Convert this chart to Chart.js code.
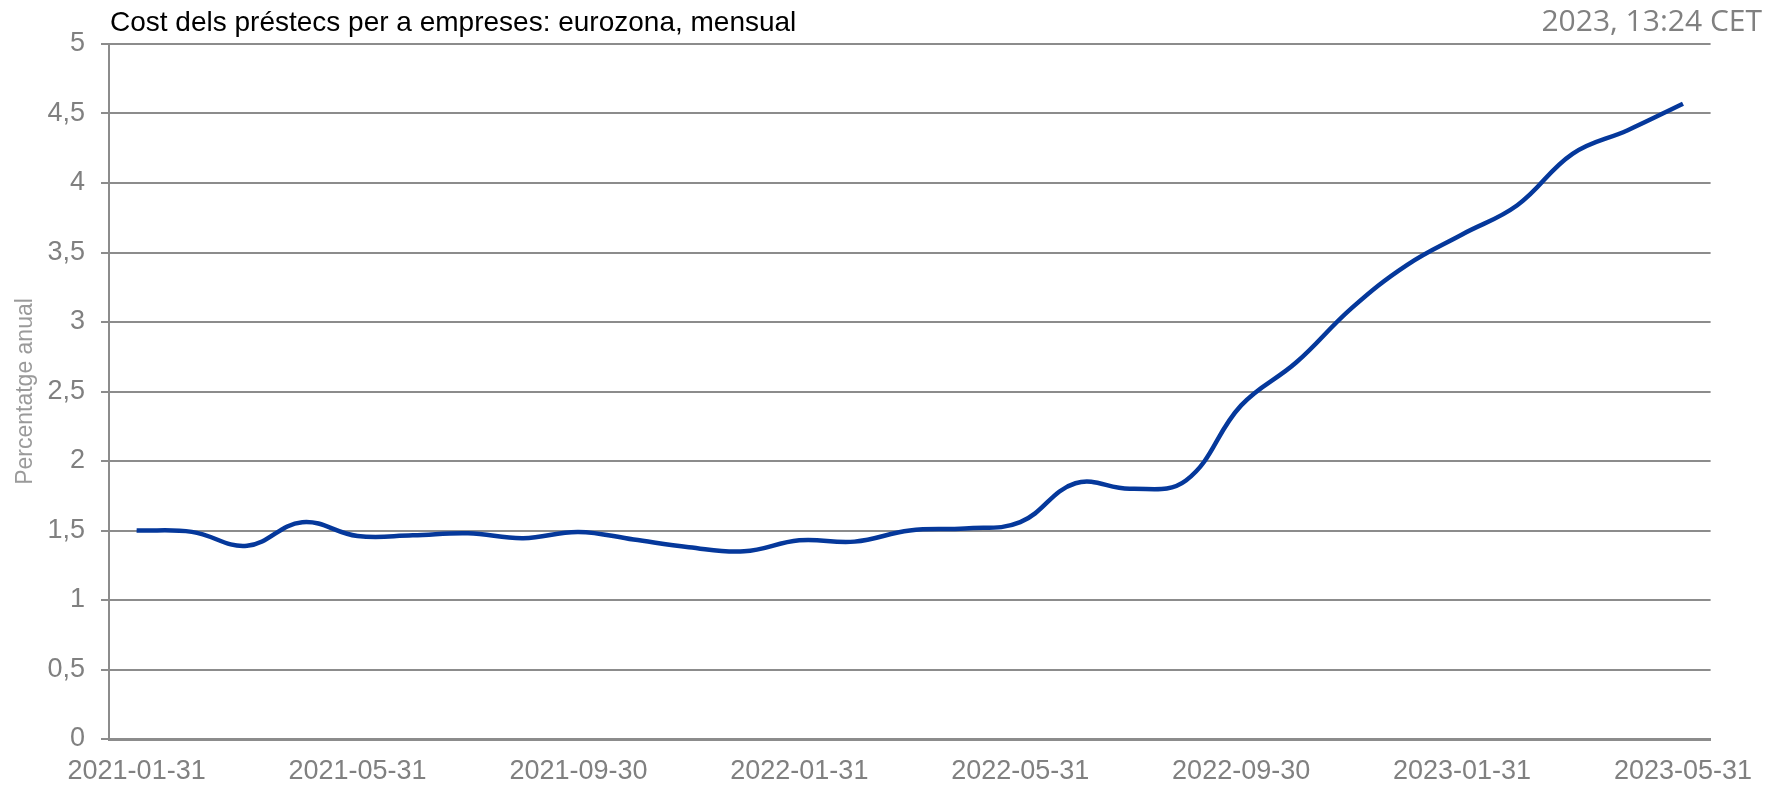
<!DOCTYPE html>
<html lang="ca">
<head>
<meta charset="utf-8">
<title>Cost dels préstecs per a empreses</title>
<script src="https://cdn.jsdelivr.net/npm/chart.js@4.4.1/dist/chart.umd.min.js"></script>
<style>
    html, body { margin: 0; padding: 0; background: #ffffff; }
    #wrap { position: relative; width: 1769px; height: 787px; overflow: hidden; }
    #title {
        position: absolute; left: 110px; top: 8px;
        font: 28px/28px "Liberation Sans", Arial, sans-serif; color: #000000;
        white-space: nowrap;
    }
    #stamp {
        position: absolute; right: 7px; top: 5px;
        font: 30px/30px "Open Sans", sans-serif; color: #808080;
        white-space: nowrap;
    }
</style>
</head>
<body>
<div id="wrap">
    <canvas id="loanCostChart"></canvas>
    <div id="title">Cost dels préstecs per a empreses: eurozona, mensual</div>
    <div id="stamp">2023, 13:24 CET</div>
</div>
<script>
// Monthly dates (end of month)
const months = [
    "2021-01-31", "2021-02-28", "2021-03-31", "2021-04-30", "2021-05-31", "2021-06-30",
    "2021-07-31", "2021-08-31", "2021-09-30", "2021-10-31", "2021-11-30", "2021-12-31",
    "2022-01-31", "2022-02-28", "2022-03-31", "2022-04-30", "2022-05-31", "2022-06-30",
    "2022-07-31", "2022-08-31", "2022-09-30", "2022-10-31", "2022-11-30", "2022-12-31",
    "2023-01-31", "2023-02-28", "2023-03-31", "2023-04-30", "2023-05-31",
];

// Composite cost of borrowing for corporations, % per year
const loanCost = [
    1.50, 1.49, 1.39, 1.56, 1.46, 1.465,
    1.48, 1.445, 1.49, 1.435, 1.38, 1.35,
    1.43, 1.42, 1.50, 1.515, 1.56, 1.84,
    1.80, 1.86, 2.40, 2.71, 3.10, 3.41,
    3.63, 3.84, 4.21, 4.38, 4.57,
];

// Labels shown on the x axis
const xTickLabels = [
    "2021-01-31", "2021-05-31", "2021-09-30", "2022-01-31",
    "2022-05-31", "2022-09-30", "2023-01-31", "2023-05-31",
];

const yTicks = [0, 0.5, 1, 1.5, 2, 2.5, 3, 3.5, 4, 4.5, 5];

const GRID = "#8c8c8c";
const TEXT = "#808080";
const FONT = '"Liberation Sans", Arial, sans-serif';

document.addEventListener("DOMContentLoaded", () => {
    const ctx = document.getElementById("loanCostChart").getContext("2d");
    new Chart(ctx, {
        type: "line",
        data: {
            labels: months,
            datasets: [
                {
                    label: "Cost dels préstecs",
                    data: loanCost,
                    borderColor: "#05389b",
                    borderWidth: 4.5,
                    pointRadius: 0,
                    tension: 0.4,
                    fill: false,
                },
            ],
        },
        options: {
            responsive: true,
            maintainAspectRatio: false,
            animation: false,
            layout: { padding: { top: 44, right: 56, bottom: 0, left: 0 } },
            plugins: {
                legend: { display: false },
                tooltip: { enabled: false },
            },
            scales: {
                x: {
                    offset: true,
                    grid: { display: false, drawTicks: false },
                    border: { display: true, color: GRID, width: 3 },
                    ticks: {
                        autoSkip: false,
                        maxRotation: 0,
                        padding: 16,
                        color: TEXT,
                        font: { family: FONT, size: 27 },
                        callback: function (value) {
                            const lbl = this.getLabelForValue(value);
                            return xTickLabels.includes(lbl) ? lbl : null;
                        },
                    },
                    afterFit: (scale) => { scale.height = 48; },
                },
                y: {
                    min: 0,
                    max: 5,
                    afterBuildTicks: (scale) => {
                        scale.ticks = yTicks.map((v) => ({ value: v }));
                    },
                    grid: { color: GRID, lineWidth: 2, drawTicks: true, tickLength: 8 },
                    border: { display: true, color: GRID, width: 2 },
                    ticks: {
                        padding: 16,
                        color: TEXT,
                        font: { family: FONT, size: 27 },
                        callback: (v) => String(v).replace(".", ","),
                    },
                    title: {
                        display: true,
                        text: "Percentatge anual",
                        color: "#9a9a9a",
                        font: { family: FONT, size: 23 },
                        padding: { top: 12, bottom: 0 },
                    },
                    afterFit: (scale) => { scale.width = 109; },
                },
            },
        },
    });
});
</script>
</body>
</html>
